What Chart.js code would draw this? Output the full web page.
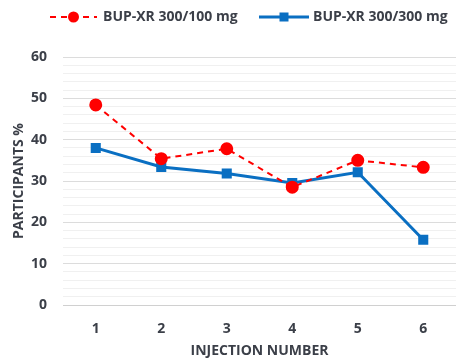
<!DOCTYPE html>
<html><head><meta charset="utf-8">
<script src="https://cdn.jsdelivr.net/npm/chart.js@4"></script>
<style>html,body{margin:0;padding:0;background:#fff}#wrap{width:457px;height:359px}</style>
</head><body><div id="wrap"><canvas id="c" width="457" height="359"></canvas></div>
<script>
const categories = ["1","2","3","4","5","6"];
const seriesNames = ["BUP-XR 300/100 mg","BUP-XR 300/300 mg"];
const dose100 = [48.4, 35.4, 37.8, 28.5, 35.0, 33.3];
const dose300 = [38.0, 33.4, 31.8, 29.5, 32.1, 15.8];
const yTicks = [0,10,20,30,40,50,60];
const xTitle = "INJECTION NUMBER";
const yTitle = "PARTICIPANTS %";

const txt = "#3b3f48";
const fontFam = "'Open Sans', 'Liberation Sans', sans-serif";

const legendPlugin = {
  id: 'customLegend',
  afterDraw(chart) {
    const ctx = chart.ctx;
    const ds = chart.data.datasets;
    const items = [
      {x0: 50, x1: 97, tx: 103},
      {x0: 259, x1: 309, tx: 313}
    ];
    const y = 17;
    ctx.save();
    items.forEach((it, i) => {
      const d = ds[i];
      ctx.strokeStyle = d.borderColor;
      ctx.lineWidth = d.borderWidth;
      ctx.setLineDash(d.borderDash || []);
      ctx.beginPath(); ctx.moveTo(it.x0, y); ctx.lineTo(it.x1, y); ctx.stroke();
      ctx.setLineDash([]);
      ctx.fillStyle = d.pointBackgroundColor;
      const cx = (it.x0 + it.x1) / 2;
      if (d.pointStyle === 'rect') {
        ctx.fillRect(cx - 4.5, y - 4.5, 9, 9);
      } else {
        ctx.beginPath(); ctx.arc(cx, y, 5.5, 0, Math.PI * 2); ctx.fill();
      }
      ctx.fillStyle = txt;
      ctx.font = "bold 14px " + fontFam;
      ctx.textBaseline = 'middle';
      ctx.textAlign = 'left';
      ctx.fillText(d.label, it.tx, y);
    });
    ctx.restore();
  }
};

new Chart(document.getElementById('c'), {
  type: 'line',
  data: {
    labels: categories,
    datasets: [
      {label: seriesNames[0], data: dose100, borderColor: '#ff0000', backgroundColor: '#ff0000',
       pointBackgroundColor: '#ff0000', pointBorderColor: '#ff0000', borderWidth: 2, borderDash: [6,5],
       pointStyle: 'circle', pointRadius: 5.5, tension: 0},
      {label: seriesNames[1], data: dose300, borderColor: '#0a6fc2', backgroundColor: '#0a6fc2',
       pointBackgroundColor: '#0a6fc2', pointBorderColor: '#0a6fc2', borderWidth: 3,
       pointStyle: 'rect', pointRadius: 5, tension: 0}
    ]
  },
  options: {
    responsive: false,
    animation: false,
    devicePixelRatio: 1,
    layout: {autoPadding: false, padding: {top: 57, right: 1, left: 11, bottom: 0}},
    plugins: {legend: {display: false}, tooltip: {enabled: false}},
    scales: {
      x: {
        offset: true,
        grid: {display: false},
        border: {display: false},
        afterFit: s => { s.height = 54; },
        ticks: {color: txt, font: {family: fontFam, size: 14, weight: 'bold'}, padding: 8},
        title: {display: true, text: xTitle, color: txt, font: {family: fontFam, size: 14, weight: 'bold'}, padding: {top: 1, bottom: 0}}
      },
      y: {
        min: yTicks[0], max: yTicks[yTicks.length - 1],
        border: {display: false},
        afterFit: s => { s.width = 52; },
        ticks: {stepSize: 2, autoSkip: false, color: txt, padding: 16,
          font: {family: fontFam, size: 14, weight: 'bold'},
          callback: v => yTicks.includes(v) ? v : ''},
        grid: {
          drawTicks: false,
          color: c => c.tick.value === 0 ? '#d0d0d0' : (c.tick.value % 10 === 0 ? '#dcdcdc' : '#f0f0f0'),
          lineWidth: 1
        },
        title: {display: true, text: yTitle, color: txt, font: {family: fontFam, size: 14, weight: 'bold'}, padding: {top: 0, bottom: 0}}
      }
    }
  },
  plugins: [legendPlugin]
});
</script></body></html>
